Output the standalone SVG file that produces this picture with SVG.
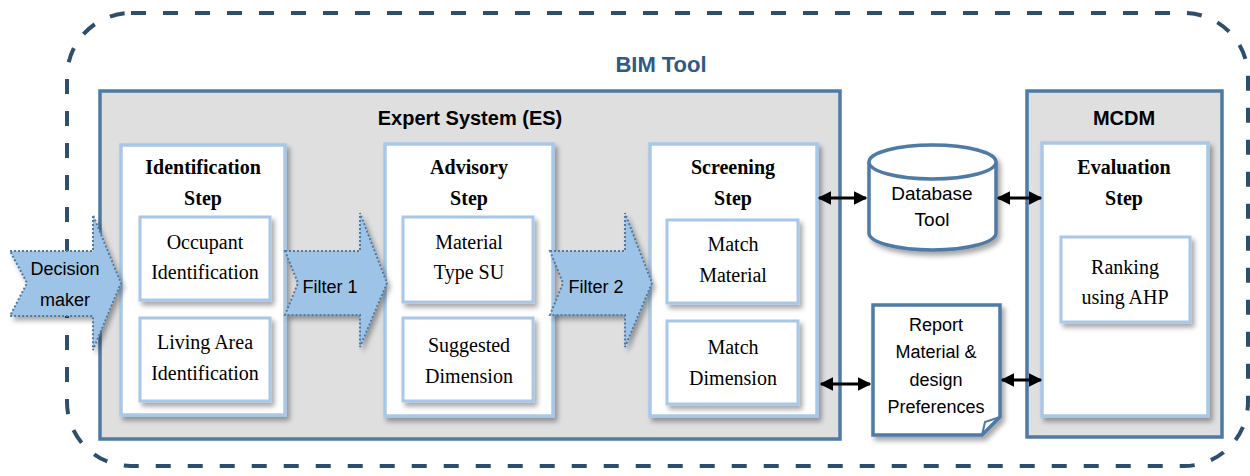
<svg xmlns="http://www.w3.org/2000/svg" width="1250" height="476" viewBox="0 0 1250 476">
  <style>
    .frame { fill: none; stroke: #2d4f6c; stroke-width: 4; stroke-dasharray: 15 17; }
    .panel { fill: #dfdfdf; stroke: #4f7aa6; stroke-width: 3.5; }
    .step { fill: #ffffff; stroke: #a9c8e8; stroke-width: 3.5; }
    .item { fill: #ffffff; stroke: #a9c8e8; stroke-width: 3; }
    .store { fill: #ffffff; stroke: #4f7aa6; stroke-width: 3.5; }
    .flow { fill: #9dc3e6; stroke: #4f7aa6; stroke-width: 2; stroke-dasharray: 2 2; }
    .link { fill: none; stroke: #000000; stroke-width: 3; }
    .head { font-family: "Liberation Sans", Arial, sans-serif; font-weight: bold; font-size: 20px; text-anchor: middle; fill: #000; }
    .title { font-family: "Liberation Sans", Arial, sans-serif; font-weight: bold; font-size: 22px; text-anchor: middle; fill: #2e5a87; }
    .sb { font-family: "Liberation Serif", "Times New Roman", serif; font-weight: bold; font-size: 20px; text-anchor: middle; fill: #000; }
    .sr { font-family: "Liberation Serif", "Times New Roman", serif; font-size: 20px; text-anchor: middle; fill: #000; }
    .ss { font-family: "Liberation Sans", Arial, sans-serif; font-size: 18px; text-anchor: middle; fill: #000; }
    .sl { font-family: "Liberation Sans", Arial, sans-serif; font-size: 19px; text-anchor: middle; fill: #000; }
  </style>
  <defs>
    <filter id="shadow" x="-10%" y="-10%" width="130%" height="130%">
      <feDropShadow dx="3" dy="4" stdDeviation="2.5" flood-color="#000" flood-opacity="0.35"/>
    </filter>
    <marker id="tip" viewBox="0 0 10 10" refX="9" refY="5" markerWidth="4.5" markerHeight="4.5" orient="auto-start-reverse" markerUnits="strokeWidth">
      <path d="M0,0 L10,5 L0,10 Z" fill="#000"/>
    </marker>
  </defs>

  <!-- dashed BIM tool boundary -->
  <rect class="frame" x="67" y="13" width="1181" height="453" rx="64" ry="64"/>
  <text class="title" x="661" y="72">BIM Tool</text>

  <!-- Expert System panel -->
  <g id="expert-system">
    <rect class="panel" x="100" y="91" width="740" height="348"/>
    <text class="head" x="470" y="125">Expert System (ES)</text>
  </g>

  <!-- MCDM panel -->
  <g id="mcdm">
    <rect class="panel" x="1027" y="91" width="195" height="346"/>
    <text class="head" x="1124" y="125">MCDM</text>
  </g>

  <!-- Identification step -->
  <g id="identification-step">
    <rect class="step" x="121" y="145" width="164" height="270" filter="url(#shadow)"/>
    <text class="sb" x="203" y="174">Identification</text>
    <text class="sb" x="203" y="205">Step</text>
  </g>
  <g id="occupant-identification">
    <rect class="item" x="140" y="217" width="130" height="83" filter="url(#shadow)"/>
    <text class="sr" x="205" y="249">Occupant</text>
    <text class="sr" x="205" y="279">Identification</text>
  </g>
  <g id="living-area-identification">
    <rect class="item" x="140" y="318" width="130" height="83" filter="url(#shadow)"/>
    <text class="sr" x="205" y="349">Living Area</text>
    <text class="sr" x="205" y="380">Identification</text>
  </g>

  <!-- Advisory step -->
  <g id="advisory-step">
    <rect class="step" x="385" y="144" width="168" height="272" filter="url(#shadow)"/>
    <text class="sb" x="469" y="174">Advisory</text>
    <text class="sb" x="469" y="205">Step</text>
  </g>
  <g id="material-type">
    <rect class="item" x="403" y="217" width="130" height="85" filter="url(#shadow)"/>
    <text class="sr" x="469" y="249">Material</text>
    <text class="sr" x="469" y="279">Type SU</text>
  </g>
  <g id="suggested-dimension">
    <rect class="item" x="403" y="318" width="130" height="83" filter="url(#shadow)"/>
    <text class="sr" x="469" y="352">Suggested</text>
    <text class="sr" x="469" y="383">Dimension</text>
  </g>

  <!-- Screening step -->
  <g id="screening-step">
    <rect class="step" x="650" y="144" width="167" height="272" filter="url(#shadow)"/>
    <text class="sb" x="733" y="174">Screening</text>
    <text class="sb" x="733" y="205">Step</text>
  </g>
  <g id="match-material">
    <rect class="item" x="667" y="220" width="131" height="83" filter="url(#shadow)"/>
    <text class="sr" x="733" y="251">Match</text>
    <text class="sr" x="733" y="282">Material</text>
  </g>
  <g id="match-dimension">
    <rect class="item" x="667" y="321" width="131" height="83" filter="url(#shadow)"/>
    <text class="sr" x="733" y="354">Match</text>
    <text class="sr" x="733" y="385">Dimension</text>
  </g>

  <!-- Evaluation step -->
  <g id="evaluation-step">
    <rect class="step" x="1042" y="143" width="166" height="273" filter="url(#shadow)"/>
    <text class="sb" x="1124" y="174">Evaluation</text>
    <text class="sb" x="1124" y="205">Step</text>
  </g>
  <g id="ranking-ahp">
    <rect class="item" x="1061" y="237" width="129" height="85" filter="url(#shadow)"/>
    <text class="sr" x="1125" y="274">Ranking</text>
    <text class="sr" x="1125" y="304">using AHP</text>
  </g>

  <!-- Database tool -->
  <g id="database-tool">
    <path class="store" d="M869,162 A63.5,17 0 0 1 996,162 L996,233 A63.5,17 0 0 1 869,233 Z" filter="url(#shadow)"/>
    <path class="store" d="M869,162 A63.5,17 0 0 0 996,162" fill="none"/>
    <text class="sl" x="932" y="200">Database</text>
    <text class="sl" x="932" y="226">Tool</text>
  </g>

  <!-- Report document -->
  <g id="report">
    <path class="store" d="M873,305 H1000 V417 L982,435 H873 Z" filter="url(#shadow)"/>
    <path d="M982,435 L985,422 L1000,417" fill="none" stroke="#4f7aa6" stroke-width="2"/>
    <text class="ss" x="936" y="331">Report</text>
    <text class="ss" x="936" y="358">Material &amp;</text>
    <text class="ss" x="936" y="386">design</text>
    <text class="ss" x="936" y="413">Preferences</text>
  </g>

  <!-- block flow arrows -->
  <g id="decision-maker">
    <path class="flow" d="M10,251 H93 V215 L121,283 L93,350 V316 H10 L27,283 Z" filter="url(#shadow)"/>
    <text class="ss" x="65" y="275">Decision</text>
    <text class="ss" x="65" y="306">maker</text>
  </g>
  <g id="filter-1">
    <path class="flow" d="M285,251 H360 V213 L387,283 L360,347 V315 H285 L298,283 Z" filter="url(#shadow)"/>
    <text class="ss" x="330" y="293">Filter 1</text>
  </g>
  <g id="filter-2">
    <path class="flow" d="M550,251 H625 V213 L652,283 L625,347 V315 H550 L563,283 Z" filter="url(#shadow)"/>
    <text class="ss" x="596" y="293">Filter 2</text>
  </g>

  <!-- connectors -->
  <g id="connectors">
    <line class="link" x1="819" y1="198" x2="866" y2="198" marker-start="url(#tip)" marker-end="url(#tip)"/>
    <line class="link" x1="998" y1="198" x2="1041" y2="198" marker-start="url(#tip)" marker-end="url(#tip)"/>
    <line class="link" x1="821" y1="384" x2="870" y2="384" marker-start="url(#tip)" marker-end="url(#tip)"/>
    <line class="link" x1="1002" y1="380" x2="1041" y2="380" marker-start="url(#tip)" marker-end="url(#tip)"/>
  </g>
</svg>
